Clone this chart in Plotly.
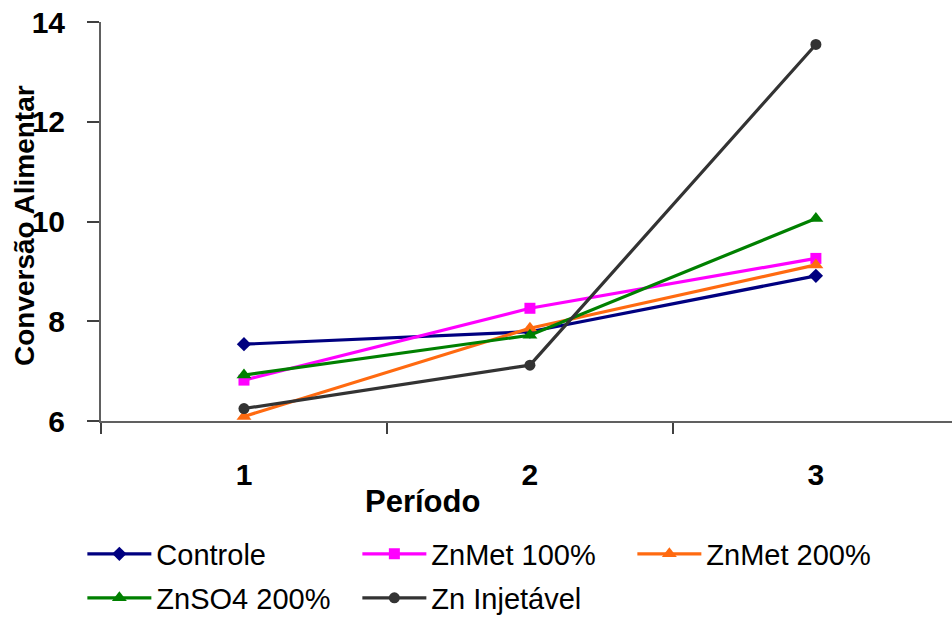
import plotly.graph_objects as go

periods = [1, 2, 3]
period_labels = ["1", "2", "3"]
series_names = ["Controle", "ZnMet 100%", "ZnMet 200%", "ZnSO4 200%", "Zn Injetável"]
controle = [7.54, 7.79, 8.91]
znmet100 = [6.82, 8.26, 9.26]
znmet200 = [6.09, 7.86, 9.13]
znso4_200 = [6.92, 7.72, 10.06]
zn_injetavel = [6.25, 7.12, 13.55]
y_ticks = [6, 8, 10, 12, 14]

values = [controle, znmet100, znmet200, znso4_200, zn_injetavel]
colors = ["#000080", "#FF00FF", "#FF6A10", "#008000", "#333333"]
symbols = ["diamond", "square", "triangle-up", "triangle-up", "circle"]
sizes = [11, 11, 13, 13, 11]
legend_ids = ["legend", "legend", "legend", "legend2", "legend2"]

FONT = "Liberation Sans, Arial, sans-serif"

fig = go.Figure()
for name, vals, c, s, sz, lg in zip(series_names, values, colors, symbols, sizes, legend_ids):
    fig.add_trace(go.Scatter(
        x=periods, y=vals, name=name, mode="lines+markers",
        line=dict(color=c, width=3.2),
        marker=dict(color=c, symbol=s, size=sz),
        cliponaxis=False, legend=lg,
    ))

legend_common = dict(
    orientation="h", xanchor="left", yanchor="middle",
    font=dict(family=FONT, size=29, color="black"),
    entrywidth=196, entrywidthmode="pixels",
    itemwidth=64, bgcolor="rgba(0,0,0,0)",
)

fig.update_layout(
    width=952, height=617,
    margin=dict(l=101, r=0, t=22, b=196, autoexpand=False),
    paper_bgcolor="white", plot_bgcolor="white",
    font=dict(family=FONT, color="black"),
    showlegend=True,
    legend=dict(x=-0.0219, y=-(554 - 421) / 399, **legend_common),
    legend2=dict(x=-0.0219, y=-(598 - 421) / 399, **legend_common),
    xaxis=dict(
        range=[0.5, 3.476], tickvals=periods, ticktext=period_labels,
        ticks="", showgrid=False, zeroline=False,
        showline=True, linecolor="#606060", linewidth=2,
        tickfont=dict(family=FONT, size=30, color="black", weight="bold"),
        ticklabelstandoff=26,
        minor=dict(tick0=0.5, dtick=1, ticks="outside", ticklen=11,
                   tickcolor="#404040", tickwidth=2, showgrid=False),
    ),
    yaxis=dict(
        range=[6, 14], tickvals=y_ticks,
        ticks="outside", ticklen=12, tickcolor="#404040", tickwidth=2,
        showgrid=False, zeroline=False,
        showline=True, linecolor="#606060", linewidth=2,
        tickfont=dict(family=FONT, size=30, color="black", weight="bold"),
        ticklabelstandoff=16,
    ),
    annotations=[
        dict(text="<b>Período</b>", xref="paper", yref="paper",
             x=(422 - 101) / 851, y=-(501 - 421) / 399,
             xanchor="center", yanchor="middle", showarrow=False,
             font=dict(family=FONT, size=31, color="black")),
        dict(text="<b>Conversão Alimentar</b>", xref="paper", yref="paper",
             x=-(101 - 24) / 851, y=(421 - 226) / 399, textangle=-90,
             xanchor="center", yanchor="middle", showarrow=False,
             font=dict(family=FONT, size=28, color="black")),
    ],
)

fig.write_html("out.html")
